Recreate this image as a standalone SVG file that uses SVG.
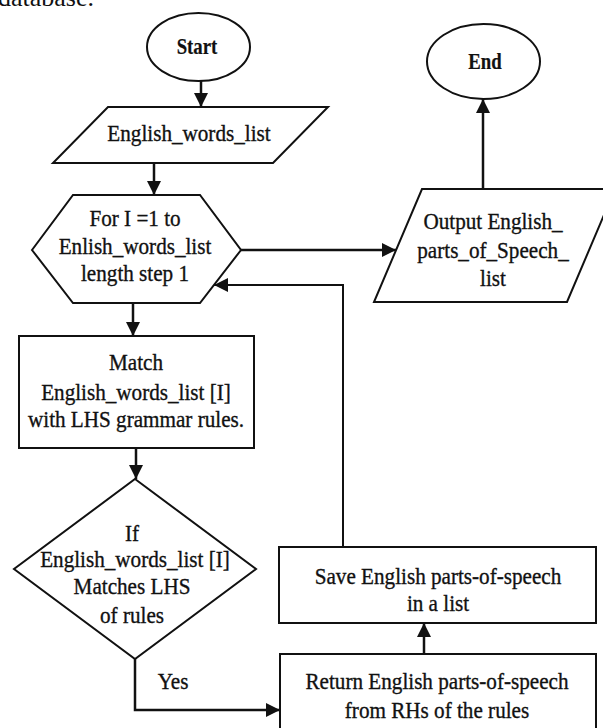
<svg xmlns="http://www.w3.org/2000/svg" width="603" height="728" viewBox="0 0 603 728">
<style>
.s{fill:#fff;stroke:#111;stroke-width:2}
.t{font-family:"Liberation Serif","Times New Roman",serif;font-size:23.5px;fill:#111;stroke:#111;stroke-width:0.35;text-anchor:middle}
.b{font-weight:bold;stroke-width:0.2}
.c{fill:none;stroke:#111;stroke-width:2.5}
.thin{stroke-width:2}
</style>
<defs>
<marker id="ah" viewBox="0 0 14 14" refX="14" refY="7" markerWidth="14" markerHeight="14" markerUnits="userSpaceOnUse" orient="auto">
<path d="M0,0 L14,7 L0,14 z" fill="#111"/>
</marker>
</defs>
<rect width="603" height="728" fill="#fff"/>
<text x="-2" y="6" style="font-family:'Liberation Serif',serif;font-size:26px;fill:#111">database.</text>

<g id="start">
<ellipse class="s" cx="198.5" cy="47" rx="51.5" ry="34"/>
<text class="t b" transform="translate(197,54) scale(0.8,1)">Start</text>
</g>
<g id="end">
<ellipse class="s" cx="483.5" cy="61.5" rx="56.5" ry="37.5"/>
<text class="t b" transform="translate(485,69) scale(0.8,1)">End</text>
</g>
<g id="input">
<polygon class="s" points="108,107 328,107 273,163 53,163"/>
<text class="t" transform="translate(189,141) scale(0.9,1)">English_words_list</text>
</g>
<g id="loop">
<polygon class="s" points="32,250 73,195 200,195 241,250 200,303 73,303"/>
<text class="t" transform="translate(135,226) scale(0.9,1)">For I =1 to</text>
<text class="t" transform="translate(135,254) scale(0.9,1)">Enlish_words_list</text>
<text class="t" transform="translate(135,281) scale(0.9,1)">length step 1</text>
</g>
<g id="output">
<polygon class="s" points="422,189 615,189 567,302 374,302"/>
<text class="t" transform="translate(493,229) scale(0.9,1)">Output English_</text>
<text class="t" transform="translate(493,258) scale(0.9,1)">parts_of_Speech_</text>
<text class="t" transform="translate(493,286) scale(0.9,1)">list</text>
</g>
<g id="match">
<rect class="s" x="19" y="336" width="235" height="112"/>
<text class="t" transform="translate(136,370) scale(0.9,1)">Match</text>
<text class="t" transform="translate(136,400) scale(0.9,1)">English_words_list [I]</text>
<text class="t" transform="translate(136,427) scale(0.9,1)">with LHS grammar rules.</text>
</g>
<g id="decision">
<polygon class="s" points="135,479 256,569 135,659 14,569"/>
<text class="t" transform="translate(132,541) scale(0.9,1)">If</text>
<text class="t" transform="translate(135,567) scale(0.9,1)">English_words_list [I]</text>
<text class="t" transform="translate(132,594) scale(0.9,1)">Matches LHS</text>
<text class="t" transform="translate(132,623) scale(0.9,1)">of rules</text>
</g>
<g id="save">
<rect class="s" x="279" y="547" width="317" height="76"/>
<text class="t" transform="translate(438,584) scale(0.9,1)">Save English parts-of-speech</text>
<text class="t" transform="translate(438,611) scale(0.9,1)">in a list</text>
</g>
<g id="return">
<rect class="s" x="280" y="654" width="316" height="90"/>
<text class="t" transform="translate(437,689) scale(0.9,1)">Return English parts-of-speech</text>
<text class="t" transform="translate(437,718) scale(0.9,1)">from RHs of the rules</text>
</g>

<g id="connectors">
<line class="c" x1="201" y1="81" x2="201" y2="107" marker-end="url(#ah)"/>
<line class="c" x1="154" y1="163" x2="154" y2="195" marker-end="url(#ah)"/>
<line class="c" x1="241" y1="250" x2="396" y2="250" marker-end="url(#ah)"/>
<line class="c" x1="483" y1="189" x2="483" y2="99" marker-end="url(#ah)"/>
<line class="c" x1="133" y1="303" x2="133" y2="336" marker-end="url(#ah)"/>
<line class="c" x1="136" y1="448" x2="136" y2="479" marker-end="url(#ah)"/>
<polyline class="c" points="135,659 135,710 280,710" marker-end="url(#ah)"/>
<line class="c" x1="424" y1="654" x2="424" y2="623" marker-end="url(#ah)"/>
<polyline class="c thin" points="343,547 343,285 214,285" marker-end="url(#ah)"/>
<text class="t" transform="translate(173,689) scale(0.9,1)">Yes</text>
</g>
</svg>
